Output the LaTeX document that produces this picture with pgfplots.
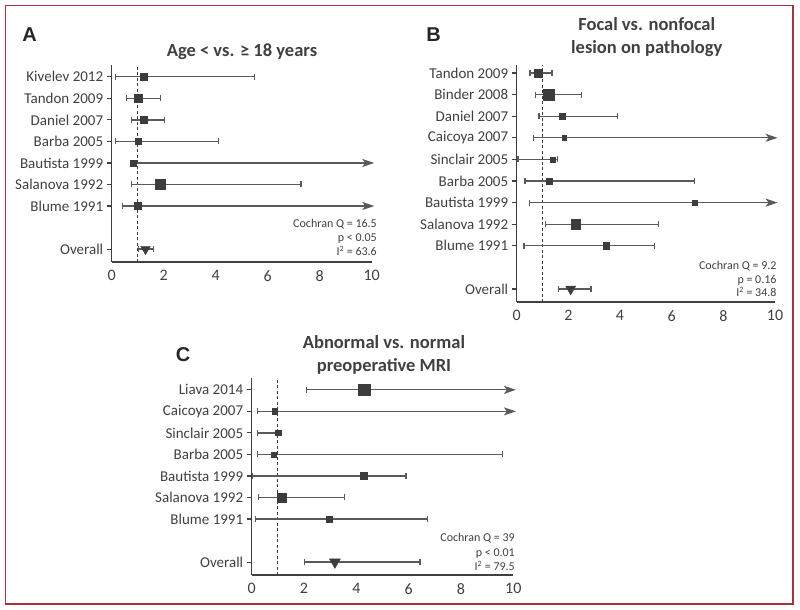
\documentclass[border=0pt]{standalone}
\usepackage{pgfplots}
\pgfplotsset{compat=1.18}
\usepackage{pgfplotstable}
\usepackage{fontspec}
\setmainfont{Carlito}
\newfontfamily\letterfont{Liberation Sans}
\usetikzlibrary{arrows.meta}

\definecolor{txt}{HTML}{404040}
\definecolor{mk}{HTML}{3C3C3C}
\definecolor{wh}{HTML}{5A5A5A}
\definecolor{framered}{HTML}{A8333A}

% y = row, pt = estimate, lo/hi = interval, s = marker size, a = 1 if open-ended
\pgfplotstableread{
y pt   lo   hi   s   a
9 1.22 0.13 5.50 3.3 0
8 1.02 0.55 1.90 4.2 0
7 1.22 0.74 2.05 3.7 0
6 1.00 0.13 4.13 3.0 0
5 0.83 0.80 10.1 3.0 1
4 1.86 0.74 7.30 5.0 0
3 1.00 0.38 10.1 3.5 1
1 1.30 1.02 1.63 5.6 0
}\tabA

\pgfplotstableread{
y  pt   lo   hi   s   a
11 0.84 0.49 1.39 4.2 0
10 1.23 0.71 2.52 5.7 0
9  1.78 0.84 3.94 3.0 0
8  1.85 0.62 10.1 2.2 1
7  1.39 0.03 1.61 2.7 0
6  1.26 0.30 6.90 2.7 0
5  6.90 0.48 10.1 2.5 1
4  2.28 1.10 5.52 4.7 0
3  3.46 0.26 5.35 3.3 0
1  2.09 1.59 2.90 5.8 0
}\tabB

\pgfplotstableread{
y pt   lo   hi   s   a
9 4.29 2.08 10.1 5.8 1
8 0.89 0.19 10.1 2.7 1
7 1.02 0.19 1.05 2.7 0
6 0.83 0.19 9.62 2.7 0
5 4.27 0.00 5.92 3.3 0
4 1.15 0.25 3.57 4.7 0
3 2.97 0.13 6.73 3.3 0
1 3.18 2.00 6.46 6.3 0
}\tabC

\pgfplotsset{
  forest/.style={
    scale only axis, anchor=south west,
    axis lines=left, axis line style={-, draw=txt, line width=1.1pt},
    xmin=0, xmax=10, ymin=0.4, clip=false,
    xtick={0,2,...,10}, xtick style={draw=none},
    ytick style={draw=txt, line width=1.1pt},
    tick align=outside, major tick length=5pt,
    tick label style={text=txt},
    yticklabel style={font=\fontsize{15}{18}\selectfont},
    xticklabel style={font=\fontsize{16}{18}\selectfont},
    /pgf/number format/assume math mode=true,
  },
  whisker/.style={draw=wh, line width=1.2pt, no markers},
}

\newcommand\forestplots[2]{
  \addplot[draw=mk, line width=1.1pt, dash pattern=on 3pt off 2.5pt, no markers]
    coordinates {(1,0.4) (1,#2)};
  \addplot[whisker, {Bar[width=6pt]}-{Bar[width=6pt]},
    quiver={u=\thisrow{hi}-\thisrow{lo}, v=0},
    x filter/.expression={\thisrow{a}==0 ? x : nan}] table[x=lo, y=y] {#1};
  \addplot[whisker, {Bar[width=6pt]}-{Stealth[length=12pt, width=8pt, inset=3pt]},
    quiver={u=\thisrow{hi}-\thisrow{lo}, v=0},
    x filter/.expression={\thisrow{a}==1 ? x : nan}] table[x=lo, y=y] {#1};
  \addplot[scatter, only marks, mark=square*,
    scatter/use mapped color={draw=mk, fill=mk},
    visualization depends on={\thisrow{s} \as \msize},
    scatter/@pre marker code/.append style={/tikz/mark size=\msize},
    y filter/.expression={y==1 ? nan : y}] table[x=pt, y=y] {#1};
  \addplot[scatter, only marks, mark=triangle*, mark options={/tikz/rotate=180},
    scatter/use mapped color={draw=mk, fill=mk},
    visualization depends on={\thisrow{s} \as \msize},
    scatter/@pre marker code/.append style={/tikz/mark size=\msize},
    y filter/.expression={y==1 ? y : nan}] table[x=pt, y=y] {#1};
}

\begin{document}
\begin{tikzpicture}
\path[use as bounding box] (0,0) rectangle (800pt,-610pt);
\draw[framered, line width=1.6pt] (5.5pt,-5.5pt) rectangle (793pt,-604pt);

% panel A
\begin{axis}[forest, at={(111.7pt,-262pt)}, width=260pt, height=197pt, ymax=9.55,
  ytick={1,3,4,5,6,7,8,9},
  yticklabels={Overall, Blume 1991, Salanova 1992, Bautista 1999, Barba 2005, Daniel 2007, Tandon 2009, Kivelev 2012}]
\forestplots{\tabA}{9.55}
\end{axis}

% panel B
\begin{axis}[forest, at={(516.7pt,-302pt)}, width=258.3pt, height=237pt, ymax=11.37,
  ytick={1,3,4,5,6,7,8,9,10,11},
  yticklabels={Overall, Blume 1991, Salanova 1992, Bautista 1999, Barba 2005, Sinclair 2005, Caicoya 2007, Daniel 2007, Binder 2008, Tandon 2009}]
\forestplots{\tabB}{11.37}
\end{axis}

% panel C
\begin{axis}[forest, at={(251.7pt,-575pt)}, width=261.6pt, height=197pt, ymax=9.55,
  ytick={1,3,4,5,6,7,8,9},
  yticklabels={Overall, Blume 1991, Salanova 1992, Bautista 1999, Barba 2005, Sinclair 2005, Caicoya 2007, Liava 2014}]
\forestplots{\tabC}{9.55}
\end{axis}

% panel letters
\begin{scope}[every node/.style={text=black!85, font=\letterfont\bfseries\fontsize{20}{22}\selectfont}]
\node at (29.5pt,-35pt) {A};
\node at (433.5pt,-35pt) {B};
\node at (183pt,-355pt) {C};
\end{scope}

% titles
\begin{scope}[every node/.style={text=txt, font=\bfseries\fontsize{18.5}{23}\selectfont, align=center}]
\node at (242pt,-52pt) {Age < vs. ≥ 18 years};
\node at (646.7pt,-37.5pt) {Focal vs. nonfocal\\lesion on pathology};
\node at (384pt,-354.5pt) {Abnormal vs. normal\\preoperative MRI};
\end{scope}

% heterogeneity statistics
\begin{scope}[every node/.style={text=txt, font=\fontsize{12}{14}\selectfont, anchor=mid east, inner sep=0pt}]
\node at (377pt,-225pt) {Cochran Q = 16.5};
\node at (377pt,-239pt) {p < 0.05};
\node at (377pt,-253pt) {I\textsuperscript{2} = 63.6};
\node at (776.7pt,-266.7pt) {Cochran Q = 9.2};
\node at (776.7pt,-280.7pt) {p = 0.16};
\node at (776.7pt,-294pt) {I\textsuperscript{2} = 34.8};
\node at (515pt,-539.3pt) {Cochran Q = 39};
\node at (515pt,-554.3pt) {p < 0.01};
\node at (515pt,-568.3pt) {I\textsuperscript{2} = 79.5};
\end{scope}
\end{tikzpicture}
\end{document}
